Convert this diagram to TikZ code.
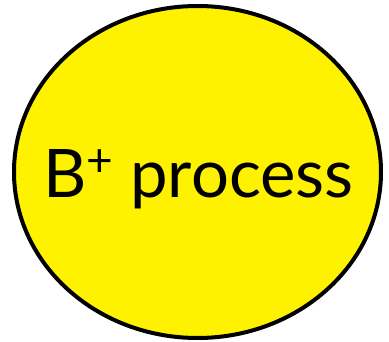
\documentclass[tikz,border=0pt]{standalone}
\usepackage{fontspec}
\setmainfont{Lato}
\tikzset{
  bubble/.style={draw=black, line width=4pt, fill=yellow},
  label/.style={font=\fontsize{67}{80}\selectfont, inner sep=0pt}
}
\newcommand{\supplus}{\raisebox{21pt}{\fontsize{46}{48}\selectfont +}}
\begin{document}
\begin{tikzpicture}[x=1pt,y=1pt]
\useasboundingbox (0,0) rectangle (389,341);
\draw[bubble] (197.5,169) ellipse [x radius=183.5, y radius=166];
\node[label, anchor=base] (t) at (198.5,144) {B\supplus\ process};
\end{tikzpicture}
\end{document}
